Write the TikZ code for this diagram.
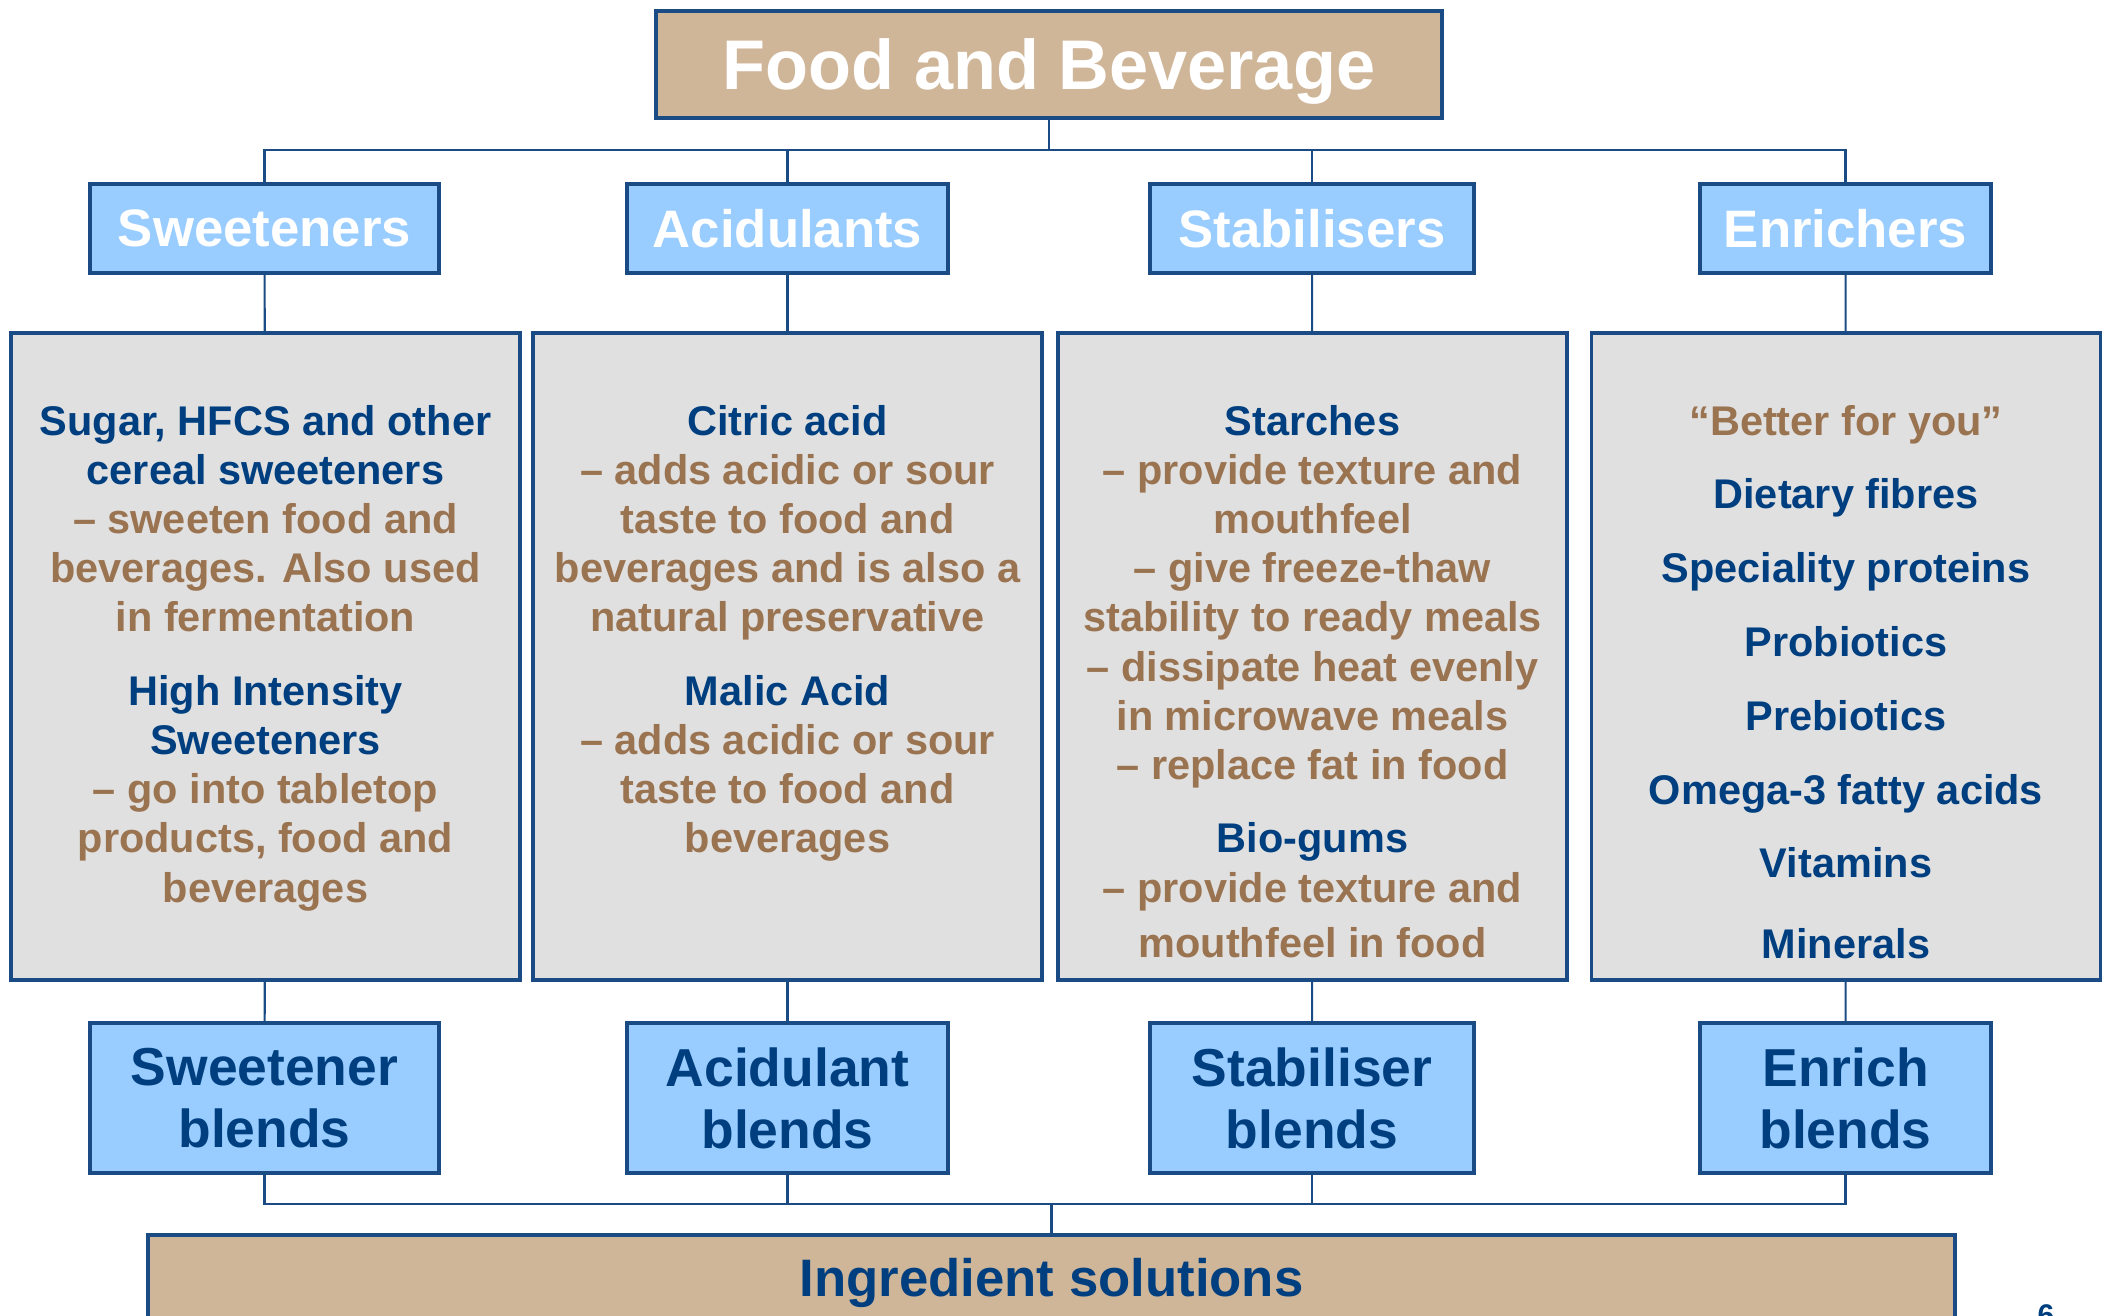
\documentclass[tikz,border=0pt]{standalone}
\usepackage{fontspec}
\setmainfont{Liberation Sans}
\usetikzlibrary{positioning}
\definecolor{navy}{HTML}{003F7F}
\definecolor{rim}{HTML}{1A4B84}
\definecolor{tan}{HTML}{D0B699}
\definecolor{sky}{HTML}{99CCFF}
\definecolor{panel}{HTML}{E0E0E0}
\definecolor{bronze}{HTML}{9A7350}
\newcommand{\hd}[1]{\textcolor{navy}{#1}}
\newcommand{\tx}[1]{\textcolor{bronze}{#1}}
\newcommand{\panelbox}[2]{\parbox[c][6.47cm][t]{5.0cm}{\centering\fontsize{11.8}{#1}\selectfont\rule{0pt}{1.02cm}#2}}
\tikzset{
  head/.style={draw=rim, line width=0.9pt, fill=tan, minimum width=7.86cm, minimum height=1.07cm, text height=18.6pt, text depth=4.2pt, text=white, font=\bfseries\fontsize{20}{24}\selectfont},
  cat/.style={draw=rim, line width=0.9pt, fill=sky, minimum height=0.89cm, text=white, font=\bfseries\fontsize{15}{18}\selectfont},
  info/.style={draw=rim, line width=0.9pt, fill=panel, inner sep=0pt, minimum width=5.09cm, minimum height=6.47cm, font=\bfseries},
  blend/.style={draw=rim, line width=0.9pt, fill=sky, minimum height=1.5cm, text=navy, align=center, font=\bfseries\fontsize{15.2}{17.7}\selectfont},
  foot/.style={draw=rim, line width=0.9pt, fill=tan, minimum width=18.07cm, minimum height=0.96cm, text=navy, font=\bfseries\fontsize{15}{18}\selectfont},
  link/.style={draw=rim, line width=0.6pt}
}
\begin{document}
\begin{tikzpicture}
      \useasboundingbox (0,0) rectangle (21.05,-13.15);

      \node[head] (FB) at (10.49,-0.645) {Food and Beverage};

      \node[cat, minimum width=3.49cm] (SW) at (2.645,-2.285) {Sweeteners};
      \node[cat, minimum width=3.21cm] (AC) at (7.875,-2.285) {Acidulants};
      \node[cat, minimum width=3.24cm] (ST) at (13.12,-2.285) {Stabilisers};
      \node[cat, minimum width=2.91cm] (EN) at (18.455,-2.285) {Enrichers};

      \node[info] (SW1) at (2.655,-6.565) {\panelbox{14pt}{\hd{Sugar, HFCS and other}\\ \hd{cereal sweeteners}\\
        \tx{– sweeten food and}\\ \tx{beverages. Also used}\\ \tx{in fermentation}\\[6.9pt]
        \hd{High Intensity}\\ \hd{Sweeteners}\\ \tx{– go into tabletop}\\ \tx{products, food and}\\ \tx{beverages}}};
      \node[info] (AC1) at (7.875,-6.565) {\panelbox{14pt}{\hd{Citric acid}\\ \tx{– adds acidic or sour}\\
        \tx{taste to food and}\\ \tx{beverages and is also a}\\ \tx{natural preservative}\\[6.9pt]
        \hd{Malic Acid}\\ \tx{– adds acidic or sour}\\ \tx{taste to food and}\\ \tx{beverages}}};
      \node[info] (ST1) at (13.125,-6.565) {\panelbox{14pt}{\hd{Starches}\\ \tx{– provide texture and}\\
        \tx{mouthfeel}\\ \tx{– give freeze-thaw}\\ \tx{stability to ready meals}\\ \tx{– dissipate heat evenly}\\
        \tx{in microwave meals}\\ \tx{– replace fat in food}\\[6.9pt]
        \hd{Bio-gums}\\ \tx{– provide texture and}\\[1.7pt] \tx{mouthfeel in food}}};
      \node[info] (EN1) at (18.46,-6.565) {\panelbox{21pt}{\tx{“Better for you”}\\ \hd{Dietary fibres}\\
        \hd{Speciality proteins}\\ \hd{Probiotics}\\ \hd{Prebiotics}\\ \hd{Omega-3 fatty acids}\\
        \hd{Vitamins}\\[1.9pt] \hd{Minerals}}};

      \node[blend, minimum width=3.49cm] (SW2) at (2.645,-10.98) {Sweetener\\ blends};
      \node[blend, minimum width=3.21cm] (AC2) at (7.875,-10.98) {Acidulant\\ blends};
      \node[blend, minimum width=3.24cm] (ST2) at (13.12,-10.98) {Stabiliser\\ blends};
      \node[blend, minimum width=2.91cm] (EN2) at (18.455,-10.98) {Enrich\\ blends};

      \node[foot] (IS) at (10.515,-12.83) {Ingredient solutions};
      \node[anchor=base, text=navy, font=\bfseries\fontsize{8.5}{10}\selectfont] (PG) at (20.46,-13.25) {6};

      \coordinate (upbar) at (10.49,-1.50);
      \coordinate (lowbar) at (10.515,-12.04);

      \draw[link] (FB) -- (upbar);
      \foreach \n in {SW,AC,ST,EN} {
        \draw[link] (upbar) -| (\n);
        \draw[link] (\n) -- (\n1);
        \draw[link] (\n1) -- (\n2);
        \draw[link] (\n2) |- (lowbar);
      }
      \draw[link] (lowbar) -- (IS);
    \end{tikzpicture}
\end{document}
